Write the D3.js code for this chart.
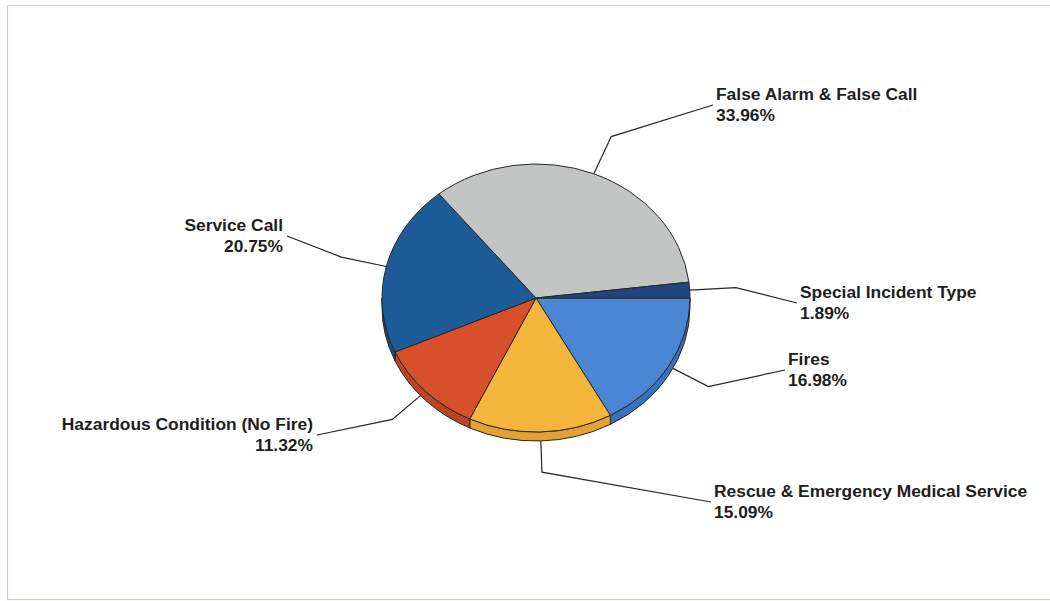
<!DOCTYPE html>
<html>
<head>
<meta charset="utf-8">
<script src="https://cdn.jsdelivr.net/npm/d3@7"></script>
<style>
  body { margin: 0; background: #fff; }
  svg { display: block; }
  .label { font-family: "Liberation Sans", Arial, sans-serif; font-weight: bold; font-size: 17.4px; fill: #1e1e1e; }
  .leader { fill: none; stroke: #262626; stroke-width: 1.2; }
  .slice, .side { stroke: #262626; stroke-width: 1; vector-effect: non-scaling-stroke; }
</style>
</head>
<body>
<svg id="canvas" width="1050" height="601"></svg>
<script>
// incident categories, clockwise from 3 o'clock
const categories = ["Fires", "Rescue & Emergency Medical Service", "Hazardous Condition (No Fire)",
    "Service Call", "False Alarm & False Call", "Special Incident Type"];
const counts = [9, 8, 6, 11, 18, 1];
const topColors = ["#4a86d3", "#f3b53c", "#d8502b", "#1d5c98", "#c3c5c5", "#24447e"];
const sideColors = ["#3b70bb", "#e2a234", "#bd4524", "#174d82", "#a9abab", "#1c3868"];
// label anchor (x, first baseline) for each category
const labelPos = [[788, 365], [714, 497], [313, 430], [283, 231], [716, 100], [800, 298]];

const W = 1050, H = 601;
const CX = 536, CY = 298, RX = 154, RY = 134, DEPTH = 9;
const LINE_H = 20.5;

const svg = d3.select("#canvas");
const total = d3.sum(counts);
const pct = d3.format(".2%");

// frame
svg.append("rect")
    .attr("x", 7.5).attr("y", 5.5)
    .attr("width", W).attr("height", H - 7)
    .attr("fill", "none").attr("stroke", "#cfcfc8").attr("stroke-width", 1.2);

const pie = d3.pie().sort(null).value(d => d)
    .startAngle(Math.PI / 2).endAngle(Math.PI / 2 + 2 * Math.PI);
const arcs = pie(counts);

const pt = (a, k) => [CX + k * RX * Math.sin(a), CY - k * RY * Math.cos(a)];

// leader lines go first, so the pie covers their starts
arcs.forEach((d, i) => {
    const mid = (d.startAngle + d.endAngle) / 2;
    const right = labelPos[i][0] > CX;
    const end = [labelPos[i][0] + (right ? -3 : 4), labelPos[i][1] + 5];
    svg.append("polyline")
        .attr("class", "leader")
        .attr("points", [pt(mid, 1), pt(mid, 1.3), end].map(p => p.join(",")).join(" "));
});

const pieG = svg.append("g")
    .attr("transform", `translate(${CX},${CY}) scale(1,${RY / RX})`);

// side wall, only where the rim faces the viewer (3 o'clock round to 9 o'clock)
const depthScaled = DEPTH * RX / RY;
arcs.forEach((d, i) => {
    const s = Math.max(d.startAngle, Math.PI / 2);
    const e = Math.min(d.endAngle, 3 * Math.PI / 2);
    if (e <= s) return;
    const p = d3.path();
    p.arc(0, 0, RX, s - Math.PI / 2, e - Math.PI / 2);
    p.arc(0, depthScaled, RX, e - Math.PI / 2, s - Math.PI / 2, true);
    p.closePath();
    pieG.append("path")
        .attr("class", "side")
        .attr("d", p.toString())
        .attr("fill", sideColors[i]);
});

const arc = d3.arc().innerRadius(0).outerRadius(RX);
pieG.selectAll(".slice")
    .data(arcs)
    .enter()
    .append("path")
    .attr("class", "slice")
    .attr("d", arc)
    .attr("fill", (d, i) => topColors[i]);

// labels
arcs.forEach((d, i) => {
    const right = labelPos[i][0] > CX;
    const t = svg.append("text")
        .attr("class", "label")
        .attr("text-anchor", right ? "start" : "end");
    t.append("tspan").attr("x", labelPos[i][0]).attr("y", labelPos[i][1]).text(categories[i]);
    t.append("tspan").attr("x", labelPos[i][0]).attr("y", labelPos[i][1] + LINE_H).text(pct(counts[i] / total));
});
</script>
</body>
</html>
